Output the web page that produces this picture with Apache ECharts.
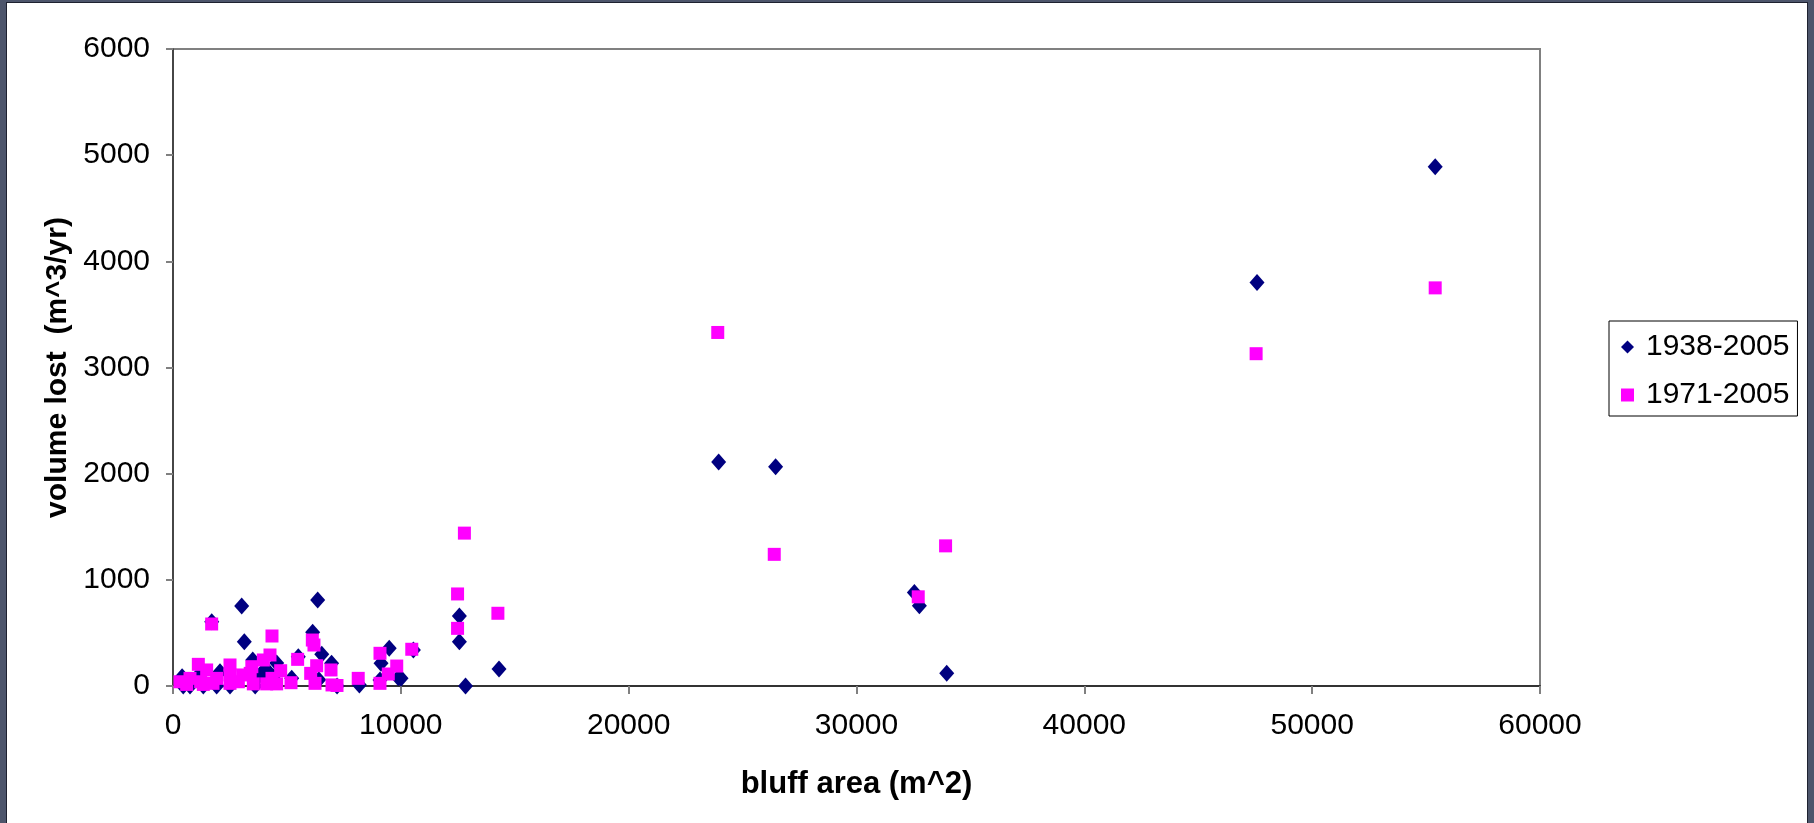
<!DOCTYPE html>
<html>
<head>
<meta charset="utf-8">
<title>bluff area vs volume lost</title>
<script src="https://cdn.jsdelivr.net/npm/echarts@6/dist/echarts.min.js"></script>
<style>
    html, body { margin: 0; padding: 0; background: #fff; }
    #chart { position: absolute; left: 0; top: 0; width: 1814px; height: 823px; }
    /* dark window frame around the picture */
    #frame {
        position: absolute; left: 0; top: 0; width: 1814px; height: 823px;
        box-sizing: border-box; pointer-events: none;
        border-style: solid; border-color: #4d556b;
        border-width: 3px 7px 0 7px;
    }
    #frame > div {
        position: absolute; left: -1px; top: -1px; right: -1px; bottom: 0;
        border-style: solid; border-color: #1e2130; border-width: 1px 1px 0 1px;
    }
</style>
</head>
<body>
<div id="chart"></div>
<div id="frame"><div></div></div>
<script>
// ---------------- data ----------------

const seriesNames = ["1938-2005", "1971-2005"];

// 1938-2005: bluff area (m^2) / volume lost (m^3/yr)
const areaA = [
    55400, 47580, 23950, 26450, 32540, 32760, 33960,
    12570, 12570, 12840, 14310, 10550, 10010, 9490, 9130, 9890, 9085,
    6350, 6130, 6530, 6960, 8180, 5500, 5210, 3015, 3130, 3500, 4550,
    4140, 4400, 4064, 1700, 2063, 400, 450, 746, 1331, 1916, 2502, 3607,
    7200, 1200, 6400, 3800, 4100, 4300,
];
const lossA = [
    4890, 3800, 2110, 2065, 880, 755, 120,
    660, 417, 0, 160, 340, 72, 355, 214, 78, 56,
    810, 506, 298, 214, 10, 276, 72, 753, 417, 245, 217,
    135, 88, 164, 606, 135, 88, 0, 0, 0, 0, 0, 0,
    0, 120, 60, 100, 150, 60,
];

// 1971-2005
const areaB = [
    55400, 47540, 23910, 26390, 33910, 32710,
    12790, 12490, 14260, 12490, 10480, 9820, 9085, 9450, 9085, 8130,
    6935, 6306, 6043, 6233, 6979, 7198, 6115, 6187, 5471, 5179, 4726,
    4345, 4257, 3965, 4345, 4550, 4110, 3526, 3389, 3460, 3058,
    2502, 2502, 2502, 2868, 1916, 1477, 1112, 1755, 1214, 746, 307,
    600, 1331, 1697,
];
const lossB = [
    3750, 3130, 3330, 1240, 1320, 840,
    1440, 867, 685, 543, 346, 188, 308, 113, 25, 72,
    151, 191, 119, 25, 10, 5, 433, 386, 251, 31, 144,
    471, 292, 245, 72, 20, 20, 20, 119, 182, 104,
    198, 104, 25, 40, 72, 151, 204, 25, 40, 72, 40,
    15, 15, 584,
];

const xTicks = { min: 0, max: 60000, interval: 10000 };
const yTicks = { min: 0, max: 6000, interval: 1000 };

// ---------------- chart ----------------

function pairs(xs, ys) {
    return xs.map((x, i) => [x, ys[i]]);
}

// plain numbers, no thousands separator
const plain = (v) => String(v);

const FONT = "'Liberation Sans', Arial, sans-serif";
const chart = echarts.init(document.getElementById("chart"));

chart.setOption({
    animation: false,
    backgroundColor: "#ffffff",
    textStyle: { fontFamily: FONT, color: "#000" },

    grid: {
        left: 173, top: 49, width: 1367, height: 637,
        show: true,
        backgroundColor: "#ffffff",
        borderColor: "#808080",
        borderWidth: 2,
    },

    legend: {
        left: 1609, top: 321,
        orient: "vertical",
        padding: [11, 8, 6, 12],
        itemGap: 18,
        itemWidth: 13,
        itemHeight: 13,
        borderColor: "#000",
        borderWidth: 1,
        backgroundColor: "#fff",
        textStyle: { fontSize: 30, fontFamily: FONT, color: "#000", padding: [0, 0, 0, 7] },
        data: [
            { name: seriesNames[0], icon: "diamond" },
            { name: seriesNames[1], icon: "rect" },
        ],
    },

    xAxis: {
        type: "value",
        min: xTicks.min, max: xTicks.max, interval: xTicks.interval,
        name: "bluff area (m^2)",
        nameLocation: "middle",
        nameGap: 83,
        nameTextStyle: { fontSize: 31, fontWeight: "bold", fontFamily: FONT, color: "#000" },
        axisLine: { lineStyle: { color: "#333", width: 2 } },
        axisTick: { length: 8, lineStyle: { color: "#808080", width: 2 } },
        axisLabel: { fontSize: 30, margin: 25, color: "#000", fontFamily: FONT, formatter: plain },
        splitLine: { show: false },
    },

    yAxis: {
        type: "value",
        min: yTicks.min, max: yTicks.max, interval: yTicks.interval,
        name: "volume lost  (m^3/yr)",
        nameLocation: "middle",
        nameGap: 100,
        nameTextStyle: { fontSize: 30, fontWeight: "bold", fontFamily: FONT, color: "#000" },
        axisLine: { show: true, lineStyle: { color: "#333", width: 1.5 } },
        axisTick: { show: true, length: 7, lineStyle: { color: "#808080", width: 2 } },
        axisLabel: { fontSize: 30, margin: 23, color: "#000", fontFamily: FONT, formatter: plain },
        splitLine: { show: false },
    },

    series: [
        {
            name: seriesNames[0],
            type: "scatter",
            symbol: "diamond",
            symbolSize: [15, 17],
            itemStyle: { color: "#000080", opacity: 1 },
            data: pairs(areaA, lossA),
        },
        {
            name: seriesNames[1],
            type: "scatter",
            symbol: "rect",
            symbolSize: 13,
            itemStyle: { color: "#ff00ff", opacity: 1 },
            data: pairs(areaB, lossB),
        },
    ],
});
</script>
</body>
</html>
